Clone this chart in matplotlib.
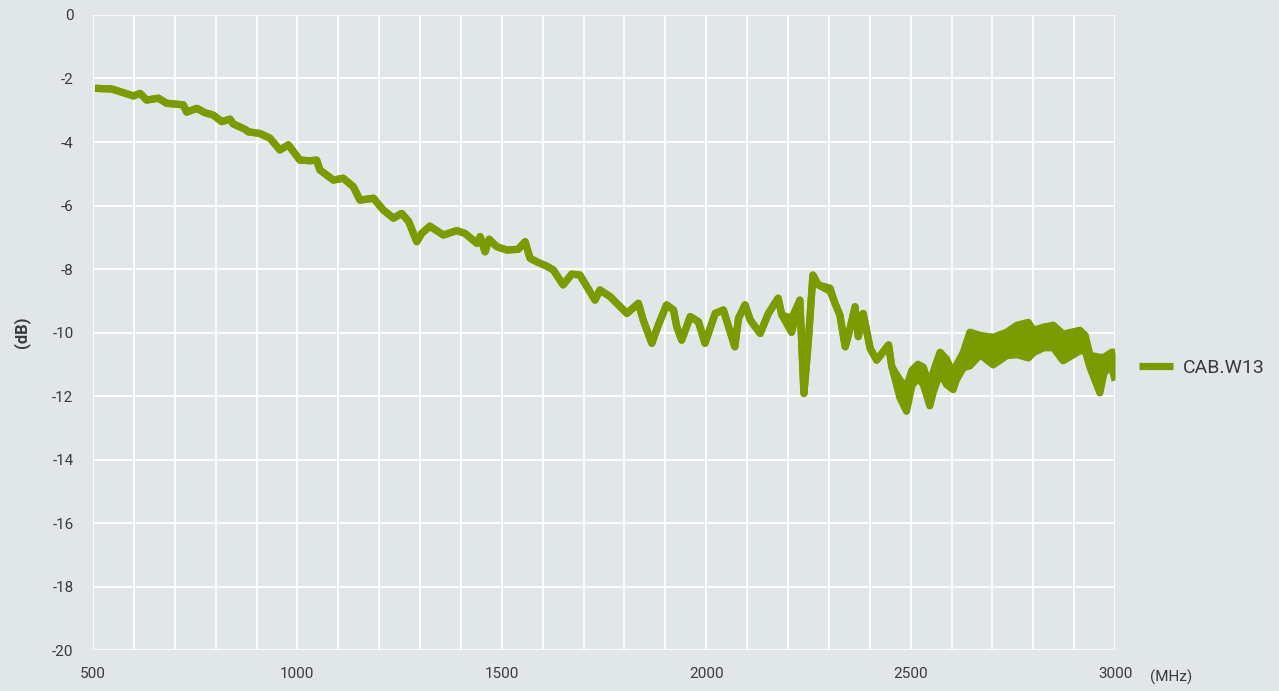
import matplotlib
matplotlib.use('Agg')
import matplotlib.pyplot as plt
from matplotlib.ticker import MultipleLocator

# insertion loss trace (MHz, dB)
freq = [505, 546, 599, 615, 623, 631, 660, 680, 721, 729, 754, 774, 794, 815, 835, 843,
        872, 880, 908, 933, 957, 978, 1006, 1031, 1047, 1055, 1088, 1112, 1137, 1153,
        1186, 1210, 1235, 1255, 1272, 1292, 1304, 1324, 1357, 1390, 1410, 1439, 1447,
        1459, 1469, 1488, 1512, 1540, 1557, 1569, 1585, 1610, 1626, 1650, 1671, 1691,
        1728, 1740, 1765, 1806, 1834, 1846, 1867, 1883, 1903, 1920, 1928, 1940, 1961,
        1981, 1997, 2022, 2042, 2070, 2079, 2095, 2108, 2132, 2152, 2176, 2185, 2209,
        2229, 2239, 2250, 2261, 2274, 2303, 2315, 2327, 2340, 2352, 2364, 2372, 2384,
        2401, 2417, 2446, 2454, 2474, 2490, 2503, 2518, 2531, 2547, 2555, 2572, 2588,
        2604, 2612, 2629, 2645, 2670, 2702, 2735, 2760, 2788, 2800, 2825, 2849, 2873,
        2914, 2927, 2939, 2963, 2973, 2992, 3000]

upper = [-2.31, -2.33, -2.55, -2.47, -2.57, -2.68, -2.62, -2.78, -2.83, -3.06, -2.94, -3.08,
         -3.15, -3.36, -3.28, -3.43, -3.60, -3.68, -3.73, -3.88, -4.25, -4.09, -4.57, -4.59,
         -4.57, -4.88, -5.20, -5.14, -5.41, -5.83, -5.77, -6.14, -6.40, -6.25, -6.50, -7.14,
         -6.88, -6.65, -6.93, -6.79, -6.88, -7.19, -6.98, -7.46, -7.06, -7.30, -7.40, -7.38,
         -7.14, -7.66, -7.77, -7.91, -8.03, -8.50, -8.16, -8.19, -8.98, -8.66, -8.87, -9.40,
         -9.08, -9.61, -10.34, -9.76, -9.13, -9.29, -9.82, -10.24, -9.50, -9.66, -10.34,
         -9.40, -9.29, -10.45, -9.55, -9.13, -9.61, -10.03, -9.40, -8.92, -9.45, -9.55,
         -8.98, -11.92, -10.24, -8.19, -8.50, -8.60, -9.08, -9.45, -10.45, -9.87, -9.19,
         -10.13, -9.40, -10.50, -10.87, -10.39, -11.08, -11.50, -11.72, -11.19, -11.00,
         -11.09, -11.72, -11.25, -10.62, -10.84, -11.31, -11.03, -10.62, -9.99, -10.09,
         -10.15, -9.99, -9.77, -9.68, -9.93, -9.83, -9.77, -10.05, -9.93, -10.09, -10.72,
         -10.78, -10.78, -10.62, -10.62]

lower = [-2.31, -2.33, -2.55, -2.47, -2.57, -2.68, -2.62, -2.78, -2.83, -3.06, -2.94, -3.08,
         -3.15, -3.36, -3.28, -3.43, -3.60, -3.68, -3.73, -3.88, -4.25, -4.09, -4.57, -4.59,
         -4.57, -4.88, -5.20, -5.14, -5.41, -5.83, -5.77, -6.14, -6.40, -6.25, -6.50, -7.14,
         -6.88, -6.65, -6.93, -6.79, -6.88, -7.19, -6.98, -7.46, -7.06, -7.30, -7.40, -7.38,
         -7.14, -7.66, -7.77, -7.91, -8.03, -8.50, -8.16, -8.19, -8.98, -8.66, -8.87, -9.40,
         -9.08, -9.61, -10.34, -9.76, -9.13, -9.29, -9.82, -10.24, -9.50, -9.66, -10.34,
         -9.40, -9.29, -10.45, -9.55, -9.13, -9.61, -10.03, -9.40, -8.92, -9.45, -10.00,
         -8.98, -11.92, -10.24, -8.19, -8.50, -8.70, -9.08, -9.45, -10.45, -9.87, -9.19,
         -10.13, -9.40, -10.50, -10.87, -10.39, -11.08, -12.06, -12.48, -11.68, -11.43,
         -11.64, -12.31, -11.90, -11.27, -11.64, -11.80, -11.49, -11.11, -11.05, -10.70,
         -11.02, -10.73, -10.70, -10.80, -10.64, -10.48, -10.48, -10.89, -10.58, -10.58,
         -11.11, -11.90, -11.27, -11.05, -11.52]

series_name = 'CAB.W13'
x_ticks = [500, 1000, 1500, 2000, 2500, 3000]
y_ticks = [0, -2, -4, -6, -8, -10, -12, -14, -16, -18, -20]

bg = '#e1e6e8'
green = '#7b9c00'
txt = '#3a3a3a'

plt.rcParams['font.family'] = ['Roboto', 'DejaVu Sans']
plt.rcParams['axes.unicode_minus'] = False

fig = plt.figure(figsize=(12.79, 6.91), dpi=100, facecolor=bg)
ax = fig.add_axes([0.0727, 0.0593, 0.7991, 0.9190], facecolor=bg)

ax.fill_between(freq, lower, upper, color=green, lw=0)
ax.plot(freq, upper, color=green, lw=5.2, solid_joinstyle='round', solid_capstyle='butt',
        label=series_name)
ax.plot(freq, lower, color=green, lw=5.2, solid_joinstyle='round', solid_capstyle='butt')

ax.set_xlim(500, 3000)
ax.set_ylim(-20, 0)
ax.set_xticks(x_ticks)
ax.xaxis.set_minor_locator(MultipleLocator(100))
ax.set_yticks(y_ticks)
ax.grid(True, which='both', color='white', lw=1.3)
ax.set_axisbelow(True)
for s in ax.spines.values():
    s.set_visible(False)
ax.tick_params(which='both', length=0, labelsize=11, labelcolor=txt)
ax.tick_params(axis='y', pad=14)
ax.tick_params(axis='x', pad=12)

ax.set_ylabel('(dB)', fontsize=12, fontweight='bold', color=txt, labelpad=16)
fig.text(1150 / 1279, 1 - 677 / 691, '(MHz)', fontsize=11, color=txt, va='center', ha='left')

fig.legend(loc='center left', bbox_to_anchor=(1121 / 1279, 1 - 368 / 691), frameon=False,
           handlelength=1.75, fontsize=14, labelcolor=txt, handletextpad=0.55)

fig.savefig('out.png', dpi=100, facecolor=bg)
